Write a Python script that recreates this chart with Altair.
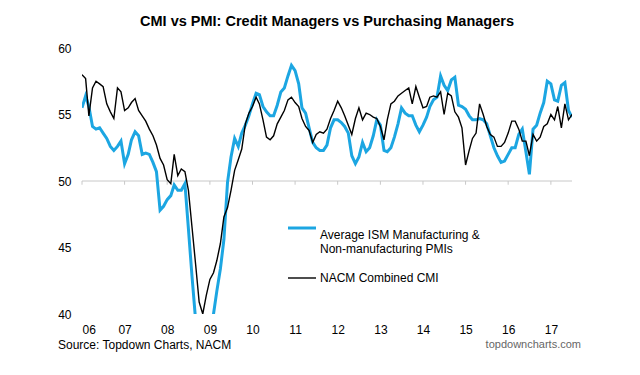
import altair as alt
import pandas as pd

# Monthly readings, Jan 2006 - Jul 2017
start_month = "2006-01-01"
cmi = [58.0, 57.7, 54.9, 57.0, 57.5, 57.3, 57.1, 55.8, 55.2, 54.7,
       57.0, 56.7, 55.3, 55.5, 55.9, 56.2, 55.3, 54.9, 54.5, 53.9,
       53.4, 52.7, 51.7, 51.2, 50.1, 49.8, 52.0, 50.4, 50.9, 50.7,
       49.3, 46.5, 43.7, 40.9, 40.0, 41.4, 42.6, 43.1, 44.0, 45.3,
       47.3, 48.0, 49.3, 50.8, 51.6, 52.4, 54.3, 55.1, 55.6, 56.3,
       55.8, 54.6, 53.3, 53.1, 53.4, 54.3, 54.8, 55.3, 56.1, 56.3,
       55.9, 55.6, 54.7, 54.1, 53.8, 52.9, 53.5, 53.7, 53.6, 53.9,
       54.7, 55.3, 56.0, 55.5, 54.9, 54.2, 53.5, 54.7, 55.5, 54.6,
       55.1, 55.0, 54.8, 54.7, 54.1, 53.1, 54.6, 55.8, 56.0, 56.4,
       56.6, 56.8, 57.0, 55.8, 57.1, 56.3, 55.5, 55.6, 56.3, 56.4,
       56.3, 56.7, 55.0, 56.6, 56.4, 55.2, 54.8, 54.0, 51.2, 52.3,
       53.2, 53.6, 55.8, 55.0, 54.1, 53.5, 53.3, 52.6, 52.6, 52.9,
       53.6, 54.5, 54.5, 53.9, 53.0, 53.0, 51.9, 53.5, 53.0, 53.3,
       54.1, 54.3, 55.0, 54.6, 55.6, 54.0, 55.8, 54.6, 55.0]
pmi = [55.5, 56.4, 55.6, 54.1, 53.9, 54.0, 53.6, 53.2, 52.6, 52.3,
       52.6, 53.0, 51.3, 52.0, 53.1, 53.7, 53.4, 52.0, 52.1, 52.0,
       51.4, 50.7, 47.8, 48.1, 48.6, 48.9, 49.7, 49.3, 49.3, 49.8,
       46.4, 42.8, 39.5, 37.0, 35.0, 35.5, 37.5, 40.0, 41.7, 43.4,
       45.6, 49.9, 51.8, 53.2, 52.6, 53.6, 54.2, 54.9, 55.8, 56.6,
       56.5, 55.6, 55.2, 54.9, 54.9, 55.7, 56.7, 57.0, 57.9, 58.7,
       58.3, 57.3, 55.5, 55.1, 54.0, 52.9, 52.5, 52.3, 52.3, 52.7,
       54.0, 54.6, 54.6, 54.4, 54.1, 53.6, 51.9, 51.3, 51.8, 52.9,
       52.2, 52.5, 53.4, 54.6, 54.2, 52.3, 52.2, 52.5, 53.3, 54.3,
       55.5, 55.1, 54.9, 54.9, 54.2, 53.7, 54.2, 54.8, 55.6, 56.1,
       56.3, 57.9, 57.2, 56.8, 57.6, 57.8, 55.7, 55.6, 55.4, 54.9,
       54.6, 54.6, 54.7, 54.6, 54.3, 53.4, 52.5, 51.9, 51.4, 51.5,
       52.0, 52.5, 52.5, 53.5, 53.9, 52.2, 50.5, 53.9, 54.2, 55.1,
       55.9, 57.5, 57.3, 56.1, 56.0, 57.2, 57.4, 55.3, 54.8]
years = list(range(2006, 2018))
y_ticks = [40, 45, 50, 55, 60]
pmi_label = ["Average ISM Manufacturing &", "Non-manufacturing PMIs"]
cmi_label = "NACM Combined CMI"
title_text = "CMI vs PMI: Credit Managers vs Purchasing Managers"
source_text = "Source: Topdown Charts, NACM"
site_text = "topdowncharts.com"

BLUE = "#1CA6E2"
FONT = "Liberation Sans"

dates = pd.date_range(start_month, periods=len(cmi), freq="MS")
df = pd.DataFrame({"date": dates, "cmi": cmi, "pmi": pmi})
year_df = pd.DataFrame({"date": pd.to_datetime([f"{y}-01-01" for y in years])})

x_scale = alt.Scale(domain=[alt.DateTime(year=2006, month=1, date=1),
                            alt.DateTime(year=2017, month=7, date=1)])
y_scale = alt.Scale(domain=[40, 60], nice=False, zero=False)

x_enc = alt.X("date:T", scale=x_scale, title=None,
              axis=alt.Axis(values=[alt.DateTime(year=y, month=1, date=1) for y in years],
                            format="%y", domain=False, ticks=False, grid=False,
                            labelFont=FONT, labelFontSize=12, labelColor="black",
                            labelPadding=10, labelAngle=0))
y_enc_axis = alt.Axis(values=y_ticks, domain=False, ticks=False, grid=False,
                      labelFont=FONT, labelFontSize=12, labelColor="black",
                      labelPadding=11)

base = alt.Chart(df)

pmi_line = base.mark_line(color=BLUE, strokeWidth=3, clip=True).encode(
    x=x_enc,
    y=alt.Y("pmi:Q", scale=y_scale, title=None, axis=y_enc_axis),
)
cmi_line = base.mark_line(color="black", strokeWidth=1.4, clip=True).encode(
    x="date:T",
    y=alt.Y("cmi:Q", scale=y_scale),
)

zero_line = alt.Chart(pd.DataFrame({"v": [50]})).mark_rule(color="#c8c8c8", strokeWidth=1).encode(
    y=alt.Y("v:Q", scale=y_scale),
)
ticks = alt.Chart(year_df).mark_rule(color="#c8c8c8", strokeWidth=1).encode(
    x="date:T",
    y=alt.datum(50),
    y2=alt.datum(49.72),
)

# legend
leg_pmi_sym = alt.Chart(pd.DataFrame({"a": [0]})).mark_rule(color=BLUE, strokeWidth=3).encode(
    x=alt.value(206), x2=alt.value(234), y=alt.value(180))
leg_pmi_txt = alt.Chart(pd.DataFrame({"t": [pmi_label]})).mark_text(
    align="left", baseline="middle", font=FONT, fontSize=12, color="black", lineHeight=14
).encode(x=alt.value(238), y=alt.value(187), text="t")
leg_cmi_sym = alt.Chart(pd.DataFrame({"a": [0]})).mark_rule(color="black", strokeWidth=1.4).encode(
    x=alt.value(206), x2=alt.value(234), y=alt.value(230))
leg_cmi_txt = alt.Chart(pd.DataFrame({"t": [cmi_label]})).mark_text(
    align="left", baseline="middle", font=FONT, fontSize=12, color="black"
).encode(x=alt.value(238), y=alt.value(230), text="t")

src = alt.Chart(pd.DataFrame({"t": [source_text]})).mark_text(
    align="left", baseline="middle", font=FONT, fontSize=12, color="black"
).encode(x=alt.value(-24), y=alt.value(297), text="t")
site = alt.Chart(pd.DataFrame({"t": [site_text]})).mark_text(
    align="right", baseline="middle", font=FONT, fontSize=11, color="#666666"
).encode(x=alt.value(499), y=alt.value(297), text="t")

chart = alt.layer(
    zero_line, ticks, pmi_line, cmi_line,
    leg_pmi_sym, leg_pmi_txt, leg_cmi_sym, leg_cmi_txt, src, site
).properties(
    width=490, height=266,
    title=alt.TitleParams(text=title_text, font=FONT, fontSize=14.5, fontWeight="bold",
                          color="black", anchor="middle", offset=13),
    autosize=alt.AutoSizeParams(type="none"),
    padding={"left": 74, "top": 40, "right": 50, "bottom": 40},
).configure_view(stroke=None)

chart.save("out.html", embed_options={"renderer": "svg", "actions": False})
